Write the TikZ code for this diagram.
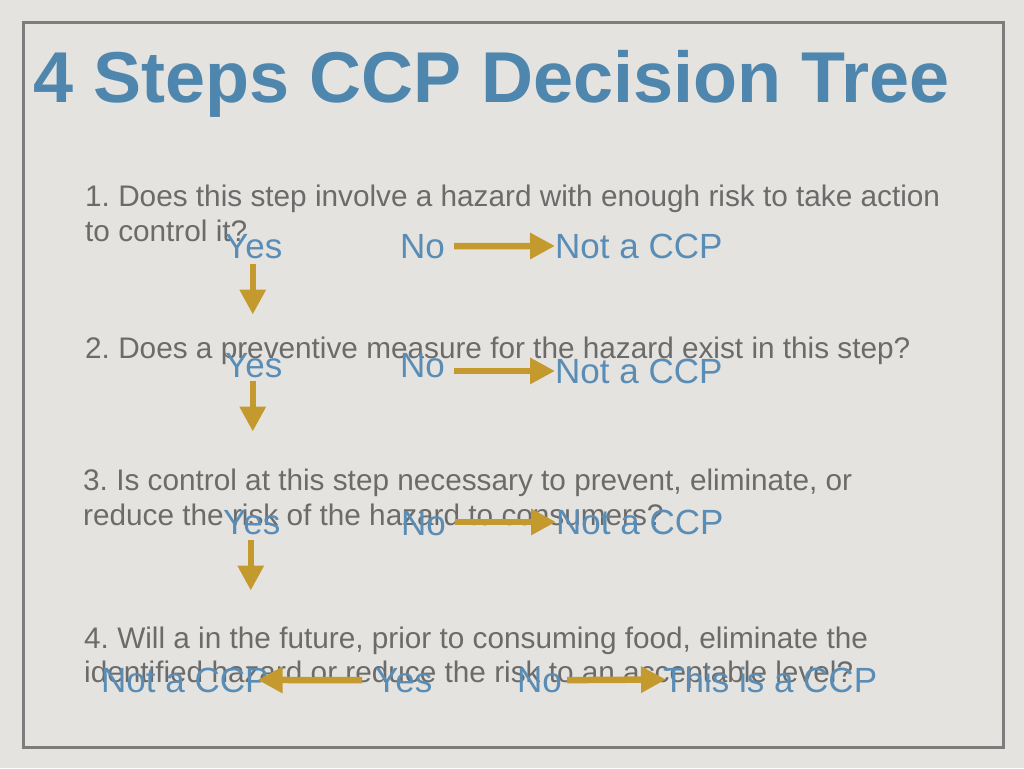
\documentclass[tikz,border=0pt]{standalone}
\usepackage{fontspec}
\setmainfont{Liberation Sans}
\usetikzlibrary{arrows.meta,calc}
\definecolor{titleblue}{HTML}{4E86AE}
\definecolor{ansblue}{HTML}{5A8DB5}
\definecolor{arrowgold}{HTML}{C49A2E}
\definecolor{qgray}{HTML}{6B6B6B}
\definecolor{paper}{HTML}{E4E3DF}
\definecolor{framegray}{HTML}{7D7D7D}
\frenchspacing
\tikzset{
  question/.style={anchor=base west, inner sep=0pt, text=qgray, font=\fontsize{29.75}{35}\selectfont},
  answer/.style={anchor=base west, inner sep=0pt, text=ansblue, font=\fontsize{35}{40}\selectfont},
  goarrow/.style={draw=arrowgold, line width=6.5pt, -{Triangle[length=25pt,width=25pt]}},
}
\begin{document}
\begin{tikzpicture}[x=1pt,y=-1pt]
\fill[paper] (0,0) rectangle (1024,768);
\useasboundingbox (0,0) rectangle (1024,768);
\draw [framegray, line width=3pt] (23,23) rectangle (1003,747);
\node[anchor=base west, inner sep=0pt, text=titleblue, font=\fontsize{72}{80}\selectfont\bfseries] (title) at (33,102) {4 Steps CCP Decision Tree};
% Step 1
\node[question] (q1a) at (85,206) {1. Does this step involve a hazard with enough risk to take action};
\node[question] (q1b) at (85,241) {to control it?};
\node[answer] (yes1) at (225,258) {Yes};
\node[answer] (no1) at (400,258) {No};
\node[answer] (ncp1) at (555,258) {Not a CCP};
\draw [goarrow] ($(no1.east)+(9,0)$) -- (ncp1.west);
\draw [goarrow] ($(yes1.south)+(-1,5)$) -- ++(0,51);
% Step 2
\node[question] (q2) at (85,358) {2. Does a preventive measure for the hazard exist in this step?};
\node[answer] (yes2) at (225,377) {Yes};
\node[answer] (no2) at (400,377) {No};
\node[answer] (ncp2) at (555,383) {Not a CCP};
\draw [goarrow] ($(no2.east |- ncp2.west)+(9,0)$) -- (ncp2.west);
\draw [goarrow] ($(yes2.south)+(-1,3)$) -- ++(0,51);
% Step 3
\node[question] (q3a) at (83,490) {3. Is control at this step necessary to prevent, eliminate, or};
\node[question] (q3b) at (83,525) {reduce the risk of the hazard to consumers?};
\node[answer] (yes3) at (223,534) {Yes};
\node[answer] (no3) at (401,535) {No};
\node[answer] (ncp3) at (556,534) {Not a CCP};
\draw [goarrow] ($(no3.east |- ncp3.west)+(9,0)$) -- (ncp3.west);
\draw [goarrow] ($(yes3.south)+(-1,5)$) -- ++(0,51);
% Step 4
\node[question] (q4a) at (84,648) {4. Will a in the future, prior to consuming food, eliminate the};
\node[question] (q4b) at (84,682) {identified hazard or reduce the risk to an acceptable level?};
\node[answer] (ncp4) at (101,692) {Not a CCP};
\node[answer] (yes4) at (375,692) {Yes};
\node[answer] (no4) at (517,692) {No};
\node[answer] (ccp4) at (663,692) {This is a CCP};
\draw [goarrow, shorten >=-11pt] ($(yes4.west)+(-13,0)$) -- (ncp4.east);
\draw [goarrow, shorten >=-3pt] ($(no4.east)+(5,0)$) -- (ccp4.west);
\end{tikzpicture}
\end{document}
